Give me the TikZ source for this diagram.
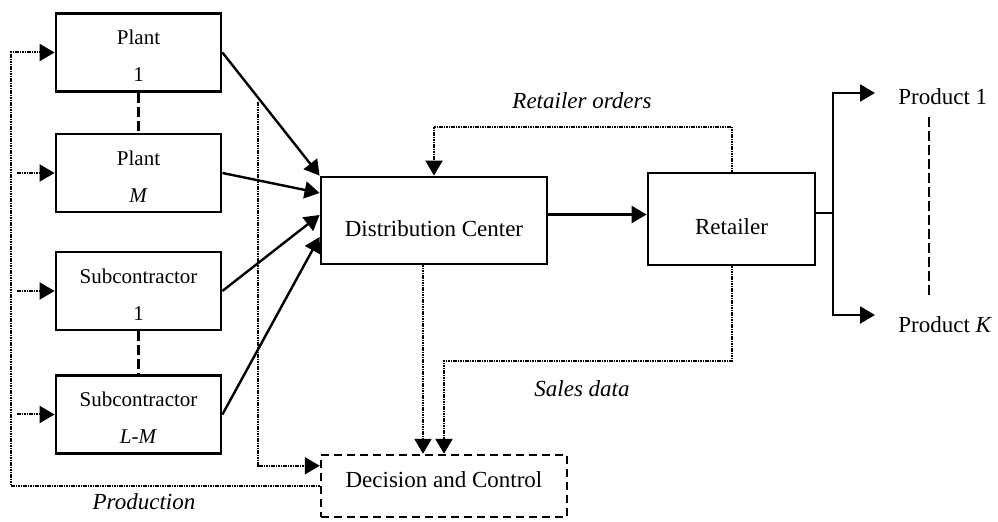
\documentclass[tikz,border=0pt]{standalone}
\usepackage{fontspec}
\setmainfont{Liberation Serif}
\usetikzlibrary{arrows.meta,calc}

\tikzset{
  box/.style={draw,line width=1.4pt,inner sep=0pt},
  src/.style={box,minimum width=82.5pt,minimum height=39pt,align=center,
    font=\fontsize{10.5}{18.5}\selectfont},
  flow/.style={line width=1.2pt,-{Triangle[length=7.5pt,width=8.5pt]}},
  info/.style={line width=1pt,dash pattern=on 0.8pt off 0.4pt,
    -{Triangle[length=7.5pt,width=8.5pt]}},
  gap/.style={line width=1.1pt,dash pattern=on 5pt off 2pt},
  lbl/.style={font=\fontsize{11.5}{14}\selectfont\itshape},
}

\begin{document}
\begin{tikzpicture}[x=0.5pt,y=-0.5pt,font=\fontsize{11.5}{14}\selectfont]

\useasboundingbox (0,0) rectangle (998,522);

% Plants and subcontractors
\node[src] (plant1) at (138.5,52.5) {\rule{0pt}{11pt}Plant\\1};
\node[src] (plantM) at (138.5,173) {\rule{0pt}{11pt}Plant\\\textit{M}};
\node[src] (sub1) at (138.5,291) {\rule{0pt}{11pt}Subcontractor\\1};
\node[src] (subLM) at (138.5,414.5) {\rule{0pt}{11pt}Subcontractor\\\textit{L-M}};

\draw[gap] (plant1) -- (plantM);
\draw[gap] (sub1) -- (subLM);

% Main chain
\node[box,minimum width=113pt,minimum height=43.5pt,text height=16pt,text depth=0pt]
  (dc) at (434,220.5) {Distribution Center};
\node[box,minimum width=83.5pt,minimum height=46pt,text height=16pt,text depth=0pt]
  (ret) at (731.5,219) {Retailer};
\node[box,line width=1.2pt,dash pattern=on 4pt off 2.5pt,minimum width=123pt,
  minimum height=31pt,text height=8pt,text depth=6pt] (dec) at (444,486)
  {Decision and Control};

% Products
\node[anchor=west,inner sep=0pt] (prod1) at (898,97) {Product 1};
\node[anchor=west,inner sep=0pt] (prodK) at (898,325) {Product \textit{K}};
\draw[gap] ($(prod1.west)+(31,20)$) -- ($(prodK.west)+(31,-27)$);

% Material flow
\draw[flow] (plant1.east) -- (dc.north west);
\draw[flow] (plantM.east) -- ($(dc.west)+(0,-27.5)$);
\draw[flow] (sub1.east) -- ($(dc.west)+(0,-5.5)$);
\draw[flow] (subLM.east) -- ($(dc.west)+(0,16.5)$);
\draw[flow] ([yshift=3pt]dc.east) -- ([yshift=3pt]dc.east -| ret.west);

\coordinate (split) at (833,213);
\draw[line width=1.2pt] ([yshift=3pt]ret.east) -- (split);
\draw[flow] (split) |- ([xshift=-11.5pt,yshift=2pt]prod1.west);
\draw[flow] (split) |- ([xshift=-11.5pt,yshift=5pt]prodK.west);

% Information flow
\draw[info] (ret.north) -- ++(0,-45) -| (dc.north);
\draw[info] (ret.south) -- ++(0,95) -| (dec.north);
\draw[info] ([xshift=-5.5pt]dc.south) -- ([xshift=-5.5pt]dc.south |- dec.north);

\coordinate (col) at (258,102);
\draw[info] (col) |- ($(dec.north west)+(0,12)$);

\coordinate (lft) at (11,0);
\draw[info] (dec.west) -- (dec.west -| lft) |- (plant1.west);
\foreach \n in {plantM,sub1,subLM}
  \draw[info] ([xshift=3pt]\n.west -| lft) -- (\n.west);

% Labels
\node[lbl] (ordlbl) at (582,101) {Retailer orders};
\node[lbl] (saleslbl) at (582,389) {Sales data};
\node[lbl] (prodlbl) at (144,502) {Production};

\end{tikzpicture}
\end{document}
